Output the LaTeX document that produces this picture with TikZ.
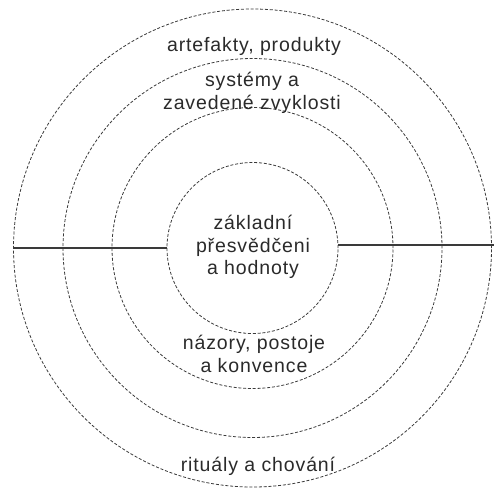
\documentclass[tikz,border=0pt]{standalone}
\usepackage{fontspec}
\setmainfont[LetterSpace=4.5]{Liberation Sans}
\usetikzlibrary{positioning}
\definecolor{RingGray}{HTML}{3A3A3A}
\definecolor{TextDark}{HTML}{2A2A2A}

\begin{document}
\begin{tikzpicture}[x=1pt, y=-1pt,
    every node/.style={font=\fontsize{19.5}{22.5}\selectfont, text=TextDark},
    ring/.style={circle, draw=RingGray, line width=0.8pt, dash pattern=on 3pt off 1.8pt, inner sep=0pt}]
  \useasboundingbox (0,0) rectangle (494,493);
  \coordinate (mid) at (252.5,248);
  % the four layers, outer to inner
  \node[ring, minimum size=478pt] (rituals) at (mid) {};
  \node[ring, minimum size=379pt] (systems) at (mid) {};
  \node[ring, minimum size=281pt] (views)   at (mid) {};
  \node[ring, minimum size=171pt] (core)    at (mid) {};
  \coordinate (rightedge) at (494,245);
  \draw[RingGray, line width=1.2pt] (core.west) -- (rituals.west);
  \draw[RingGray, line width=1.2pt] ([yshift=3pt]core.east) -- (rightedge);
  % labels
  \node[align=center] (artefakty) at (254,46)  {artefakty, produkty};
  \node[align=center] (zvyklosti) at (252,93)  {systémy a\\zavedené zvyklosti};
  \node[align=center] (hodnoty)   at (253,247) {základní\\přesvědčeni\\a hodnoty};
  \node[align=center] (konvence)  at (254,354) {názory, postoje\\a konvence};
  \node[align=center] (chovani)   at (258,466) {rituály a chování};
\end{tikzpicture}
\end{document}
